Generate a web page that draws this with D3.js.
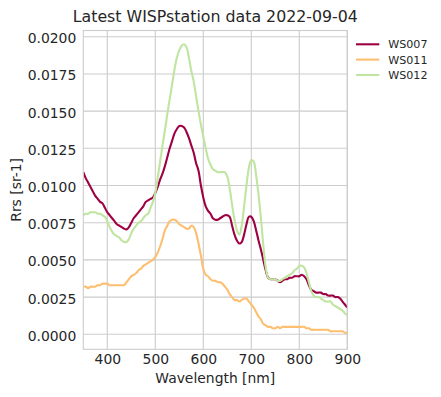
<!DOCTYPE html>
<html>
<head>
<meta charset="utf-8">
<script src="https://cdn.jsdelivr.net/npm/d3@7"></script>
<style>
  html, body { margin: 0; padding: 0; background: #fff; }
  svg { display: block; font-family: "DejaVu Sans", sans-serif; }
</style>
</head>
<body>
<svg id="chart" width="441" height="397"></svg>
<script>
// ---- data ----
const wavelengths = d3.range(350, 901, 5);

const ws007 = [
  0.0109, 0.0105, 0.0102, 0.0099, 0.0096, 0.0093, 0.0091, 0.0089, 0.0088, 0.0085,
  0.0082, 0.0080, 0.0078, 0.0076, 0.0074, 0.0073, 0.0072, 0.0071, 0.00705, 0.0072,
  0.0075, 0.0078, 0.0080, 0.0082, 0.0084, 0.0086, 0.0089, 0.0090, 0.0091, 0.0092,
  0.0095, 0.0099, 0.0104, 0.0108, 0.0113, 0.0119, 0.0125, 0.0130, 0.0135, 0.0138,
  0.0140, 0.0140, 0.0139, 0.0136, 0.0132, 0.0127, 0.0122, 0.0115, 0.0110, 0.0100,
  0.0092, 0.0086, 0.0083, 0.0081, 0.0078, 0.0077, 0.0077, 0.0078, 0.0079, 0.0080,
  0.0080, 0.0079, 0.0073, 0.0067, 0.0063, 0.0061, 0.0062, 0.0067, 0.0074, 0.0079,
  0.0079, 0.0076, 0.0070, 0.0063, 0.0057, 0.0050, 0.0043, 0.0038, 0.0037, 0.0037,
  0.0037, 0.0036, 0.0035, 0.0036, 0.0037, 0.0037, 0.0038, 0.0038, 0.0039, 0.0039,
  0.0039, 0.0040, 0.0039, 0.0037, 0.0033, 0.0030, 0.0029, 0.0028, 0.0028, 0.0028,
  0.0027, 0.0027, 0.0026, 0.0026, 0.0026, 0.0025, 0.0025, 0.0024, 0.0022, 0.0020,
  0.0018
];

const ws011 = [
  0.0032, 0.0032, 0.0031, 0.0032, 0.0032, 0.0032, 0.0033, 0.0033, 0.0034, 0.0034,
  0.0034, 0.0033, 0.0033, 0.0033, 0.0033, 0.0033, 0.0033, 0.0033, 0.0035, 0.0037,
  0.0039, 0.0040, 0.0041, 0.0043, 0.0044, 0.0046, 0.0047, 0.0048, 0.0049, 0.0050,
  0.0052, 0.0055, 0.0059, 0.0064, 0.0070, 0.0073, 0.0076, 0.0077, 0.0077, 0.0076,
  0.0074, 0.0073, 0.0072, 0.0071, 0.0071, 0.0073, 0.0072, 0.0068, 0.0061, 0.0053,
  0.0044, 0.0040, 0.0039, 0.0037, 0.0036, 0.0036, 0.0035, 0.0035, 0.0034, 0.0032,
  0.0030, 0.0027, 0.0025, 0.0023, 0.0023, 0.0022, 0.0023, 0.0024, 0.0024, 0.0022,
  0.0020, 0.0018, 0.0015, 0.0012, 0.0010, 0.0007, 0.0006, 0.0005, 0.0005, 0.0004,
  0.0004, 0.0005, 0.0004, 0.0005, 0.0005, 0.0005, 0.0005, 0.0005, 0.0005, 0.0005,
  0.0005, 0.0005, 0.0005, 0.0004, 0.0004, 0.0003, 0.0003, 0.0003, 0.0003, 0.0003,
  0.0003, 0.0003, 0.0003, 0.0002, 0.0002, 0.0002, 0.0002, 0.0002, 0.0002, 0.0001,
  0.0001
];

const ws012 = [
  0.0080, 0.0081, 0.0081, 0.0082, 0.0082, 0.0082, 0.0081, 0.0081, 0.0080, 0.0079,
  0.0076, 0.0072, 0.0069, 0.0067, 0.0066, 0.0065, 0.0063, 0.0062, 0.0062, 0.0064,
  0.0068, 0.0071, 0.0073, 0.0075, 0.0076, 0.0078, 0.0080, 0.0081, 0.0085, 0.0089,
  0.0095, 0.0105, 0.0116, 0.0127, 0.0137, 0.0148, 0.0158, 0.0168, 0.0178, 0.0186,
  0.0191, 0.0194, 0.0195, 0.0193, 0.0186, 0.0177, 0.0170, 0.0160, 0.0150, 0.0141,
  0.0133, 0.0125, 0.0118, 0.0114, 0.0111, 0.0110, 0.0109, 0.0109, 0.0109, 0.0109,
  0.0106, 0.0098, 0.0087, 0.0077, 0.0070, 0.0067, 0.0073, 0.0086, 0.0100, 0.0112,
  0.0117, 0.0116, 0.0107, 0.0094, 0.0078, 0.0060, 0.0045, 0.0038, 0.0037, 0.0037,
  0.0037, 0.0036, 0.0036, 0.0037, 0.0038, 0.0039, 0.0040, 0.0041, 0.0043, 0.0044,
  0.0046, 0.0046, 0.0045, 0.0041, 0.0035, 0.0029, 0.0026, 0.0025, 0.0025, 0.0024,
  0.0023, 0.0022, 0.0022, 0.0022, 0.0020, 0.0019, 0.0018, 0.0017, 0.0016, 0.0014,
  0.0013
];

const seriesNames = ["WS007", "WS011", "WS012"];
const seriesValues = [ws007, ws011, ws012];
const seriesColors = ["#9e0142", "#fdbf6f", "#bfe5a0"];
const xTicks = [400, 500, 600, 700, 800, 900];
const yTicks = [0, 0.0025, 0.005, 0.0075, 0.01, 0.0125, 0.015, 0.0175, 0.02];
const titleText = "Latest WISPstation data 2022-09-04";
const xLabel = "Wavelength [nm]";
const yLabel = "Rrs [sr-1]";

// ---- layout ----
const svg = d3.select("#chart");
const plot = { left: 83.3, right: 347.3, top: 30.5, bottom: 349.3 };
const textColor = "#262626";
const gridColor = "#cccccc";

const x = d3.scaleLinear().domain([350, 900]).range([plot.left, plot.right]);
const y = d3.scaleLinear().domain([-0.00101, 0.02042]).range([plot.bottom, plot.top]);

// grid
const g = svg.append("g");
g.selectAll("line.vg").data(xTicks).join("line")
  .attr("x1", d => x(d)).attr("x2", d => x(d))
  .attr("y1", plot.top).attr("y2", plot.bottom)
  .attr("stroke", gridColor).attr("stroke-width", 1.1);
g.selectAll("line.hg").data(yTicks).join("line")
  .attr("x1", plot.left).attr("x2", plot.right)
  .attr("y1", d => y(d)).attr("y2", d => y(d))
  .attr("stroke", gridColor).attr("stroke-width", 1.1);

// axes (labels only, no tick marks)
const xAxis = d3.axisBottom(x).tickValues(xTicks).tickSize(0).tickPadding(5).tickFormat(d3.format("d"));
const yAxis = d3.axisLeft(y).tickValues(yTicks).tickSize(0).tickPadding(7).tickFormat(d3.format(".4f"));

const gx = svg.append("g").attr("transform", `translate(0,${plot.bottom})`).call(xAxis);
const gy = svg.append("g").attr("transform", `translate(${plot.left},0)`).call(yAxis);
[gx, gy].forEach(a => {
  a.select(".domain").remove();
  a.selectAll("text").attr("fill", textColor).style("font-size", "13.9px")
    .style("font-family", "DejaVu Sans, sans-serif");
});
gy.selectAll("text").attr("dy", "0.43em");

// lines
const line = d3.line()
  .x((d, i) => x(wavelengths[i]))
  .y(d => y(d))
  .curve(d3.curveCatmullRom.alpha(0.5));

const clip = svg.append("clipPath").attr("id", "clip").append("rect")
  .attr("x", plot.left).attr("y", plot.top)
  .attr("width", plot.right - plot.left).attr("height", plot.bottom - plot.top);

svg.append("g").attr("clip-path", "url(#clip)")
  .selectAll("path").data(seriesValues).join("path")
  .attr("d", d => line(d))
  .attr("fill", "none")
  .attr("stroke", (d, i) => seriesColors[i])
  .attr("stroke-width", 2.1)
  .attr("stroke-linejoin", "round")
  .attr("stroke-linecap", "butt");

// frame
svg.append("rect")
  .attr("x", plot.left).attr("y", plot.top)
  .attr("width", plot.right - plot.left).attr("height", plot.bottom - plot.top)
  .attr("fill", "none").attr("stroke", gridColor).attr("stroke-width", 1.1);

// title
svg.append("text")
  .attr("x", (plot.left + plot.right) / 2).attr("y", 21.7)
  .attr("text-anchor", "middle").attr("fill", textColor)
  .style("font-size", "15.8px")
  .text(titleText);

// axis labels
svg.append("text")
  .attr("x", (plot.left + plot.right) / 2).attr("y", 383.3)
  .attr("text-anchor", "middle").attr("fill", textColor)
  .style("font-size", "13.9px")
  .text(xLabel);

svg.append("text")
  .attr("transform", `translate(21,${(plot.top + plot.bottom) / 2}) rotate(-90)`)
  .attr("text-anchor", "middle").attr("fill", textColor)
  .style("font-size", "13.9px")
  .text(yLabel);

// legend
const legendY = [44.3, 59.6, 75];
const lg = svg.append("g");
seriesNames.forEach((name, i) => {
  lg.append("line")
    .attr("x1", 356).attr("x2", 379.3)
    .attr("y1", legendY[i]).attr("y2", legendY[i])
    .attr("stroke", seriesColors[i]).attr("stroke-width", 2.1);
  lg.append("text")
    .attr("x", 388.3).attr("y", legendY[i] + 4)
    .attr("fill", textColor)
    .style("font-size", "11.1px")
    .text(name);
});
</script>
</body>
</html>
